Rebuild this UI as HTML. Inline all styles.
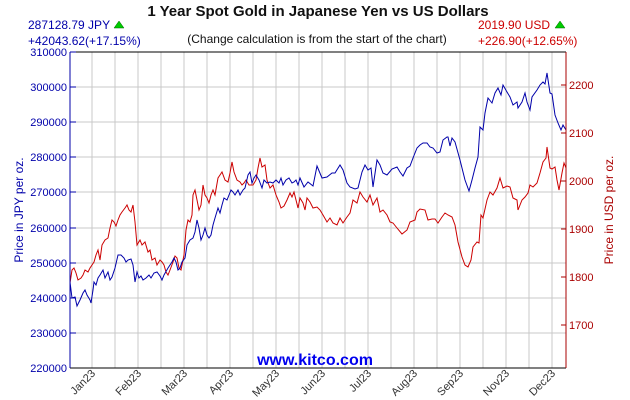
<!DOCTYPE html>
<html><head><meta charset="utf-8"><style>
body{margin:0;background:#fff;}
svg{display:block;font-family:"Liberation Sans",sans-serif;}
</style></head><body>
<svg width="630" height="400" viewBox="0 0 630 400" xmlns="http://www.w3.org/2000/svg">
<rect width="630" height="400" fill="#fff"/>
<g stroke="#c8c8c8" stroke-width="1">
<line x1="92" y1="52" x2="92" y2="368"/><line x1="115" y1="52" x2="115" y2="368"/><line x1="138" y1="52" x2="138" y2="368"/><line x1="161" y1="52" x2="161" y2="368"/><line x1="184" y1="52" x2="184" y2="368"/><line x1="207" y1="52" x2="207" y2="368"/><line x1="230" y1="52" x2="230" y2="368"/><line x1="253" y1="52" x2="253" y2="368"/><line x1="276" y1="52" x2="276" y2="368"/><line x1="299" y1="52" x2="299" y2="368"/><line x1="322" y1="52" x2="322" y2="368"/><line x1="345" y1="52" x2="345" y2="368"/><line x1="368" y1="52" x2="368" y2="368"/><line x1="391" y1="52" x2="391" y2="368"/><line x1="414" y1="52" x2="414" y2="368"/><line x1="437" y1="52" x2="437" y2="368"/><line x1="460" y1="52" x2="460" y2="368"/><line x1="483" y1="52" x2="483" y2="368"/><line x1="506" y1="52" x2="506" y2="368"/><line x1="529" y1="52" x2="529" y2="368"/><line x1="552" y1="52" x2="552" y2="368"/>
<line x1="70" y1="87" x2="566" y2="87"/><line x1="70" y1="122" x2="566" y2="122"/><line x1="70" y1="157" x2="566" y2="157"/><line x1="70" y1="192" x2="566" y2="192"/><line x1="70" y1="228" x2="566" y2="228"/><line x1="70" y1="263" x2="566" y2="263"/><line x1="70" y1="298" x2="566" y2="298"/><line x1="70" y1="333" x2="566" y2="333"/>
</g>
<text x="315" y="365" font-size="16" font-weight="bold" fill="#0000ee" text-anchor="middle">www.kitco.com</text>
<polyline fill="none" stroke="#cc0000" stroke-width="1" points="70,283 72,270 74,268 76,273 78,280 81,278 83,275 85,270 88,272 90,268 92,265 94,262 96,255 98,250 100,260 102,245 105,240 108,238 110,228 112,220 114,222 116,226 118,220 120,215 122,212 125,208 127,205 129,210 131,212 133,205 135,222 137,245 140,240 142,245 145,242 148,252 150,250 152,260 155,258 157,265 160,260 162,262 164,265 166,272 168,275 170,270 173,262 175,256 177,258 179,268 181,270 184,255 186,230 188,220 190,222 192,215 193,195 195,190 197,200 199,210 201,205 203,185 205,195 207,198 209,203 211,195 213,190 215,195 218,178 220,175 222,172 225,180 228,182 230,173 232,162 234,172 237,180 240,182 242,185 244,183 246,180 249,185 253,185 256,180 258,168 260,158 262,167 265,165 267,180 270,188 273,185 276,195 279,202 281,208 284,206 287,200 290,193 292,197 294,192 296,200 298,208 300,198 303,203 305,210 307,198 310,202 313,208 317,207 320,210 323,215 327,222 330,218 333,223 337,225 340,218 343,223 347,217 350,213 353,200 357,203 360,192 363,197 367,202 370,195 373,205 377,198 380,212 383,210 387,215 390,222 393,223 397,228 402,234 407,230 410,222 415,220 417,212 420,209 425,210 428,220 432,219 435,219 438,223 442,217 445,213 448,215 452,217 455,225 458,242 462,257 465,265 468,267 471,260 473,247 477,242 479,243 481,215 483,218 487,200 490,192 493,195 497,188 500,178 503,188 507,186 510,187 513,198 517,200 518,210 522,200 525,197 528,193 530,185 533,187 537,183 540,173 543,162 546,158 547,147 550,168 552,169 555,167 557,180 559,190 562,173 564,163 566,168"/>
<polyline fill="none" stroke="#0000aa" stroke-width="1" points="70,282 72,298 75,297 77,306 80,300 83,293 85,290 87,295 90,300 91,303 93,290 94,282 96,285 98,278 100,275 103,270 105,278 108,272 110,280 112,277 115,268 118,255 121,255 124,258 126,262 128,260 131,259 133,265 135,282 137,272 139,278 141,276 143,280 146,278 149,275 151,278 154,273 157,272 160,276 162,280 164,275 168,268 172,262 174,258 176,262 178,270 180,268 182,262 185,258 187,245 190,240 193,238 195,232 197,220 199,228 201,240 203,235 205,228 207,235 209,238 211,235 213,225 215,218 218,208 220,213 222,205 224,198 227,200 229,195 231,190 233,192 235,195 238,190 240,195 243,190 245,188 248,175 250,172 252,183 254,178 256,175 259,180 262,188 264,180 267,183 270,182 273,183 276,180 279,183 281,178 283,185 286,180 289,178 292,183 294,182 296,180 298,185 300,178 304,187 308,182 313,186 317,166 322,178 327,177 332,173 335,173 340,165 343,170 347,183 350,187 355,189 358,188 362,172 365,165 368,170 371,168 373,187 377,160 380,165 383,173 387,175 392,169 397,167 400,172 403,176 407,168 410,166 413,158 417,148 420,145 423,143 427,143 430,147 433,148 437,153 440,152 443,140 447,137 448,137 450,146 452,138 455,142 460,160 465,180 469,191 472,180 475,168 478,157 480,127 483,130 485,113 488,98 492,103 495,93 498,88 501,95 503,85 507,92 510,97 513,105 517,102 518,108 522,102 525,93 527,102 530,110 532,97 537,90 540,85 543,82 545,84 547,73 550,93 552,94 555,115 558,123 561,130 563,125 566,130"/>
<line x1="70" y1="52" x2="566" y2="52" stroke="#000"/>
<line x1="70" y1="368" x2="566" y2="368" stroke="#000"/>
<line x1="70" y1="52" x2="70" y2="368" stroke="#0000aa"/>
<line x1="566" y1="52" x2="566" y2="368" stroke="#aa0000"/>
<g stroke="#0000aa"><line x1="70" y1="52" x2="76" y2="52"/><line x1="70" y1="87" x2="76" y2="87"/><line x1="70" y1="122" x2="76" y2="122"/><line x1="70" y1="157" x2="76" y2="157"/><line x1="70" y1="192" x2="76" y2="192"/><line x1="70" y1="228" x2="76" y2="228"/><line x1="70" y1="263" x2="76" y2="263"/><line x1="70" y1="298" x2="76" y2="298"/><line x1="70" y1="333" x2="76" y2="333"/></g>
<g fill="#0000aa" font-size="11" text-anchor="end"><text x="67" y="56">310000</text><text x="67" y="91">300000</text><text x="67" y="126">290000</text><text x="67" y="161">280000</text><text x="67" y="196">270000</text><text x="67" y="232">260000</text><text x="67" y="267">250000</text><text x="67" y="302">240000</text><text x="67" y="337">230000</text><text x="67" y="372">220000</text></g>
<g stroke="#aa0000"><line x1="561" y1="85" x2="566" y2="85"/><line x1="561" y1="133" x2="566" y2="133"/><line x1="561" y1="181" x2="566" y2="181"/><line x1="561" y1="229" x2="566" y2="229"/><line x1="561" y1="277" x2="566" y2="277"/><line x1="561" y1="325" x2="566" y2="325"/></g>
<g fill="#aa0000" font-size="11"><text x="569" y="89">2200</text><text x="569" y="137">2100</text><text x="569" y="185">2000</text><text x="569" y="233">1900</text><text x="569" y="281">1800</text><text x="569" y="329">1700</text></g>
<g fill="#333" font-size="11" text-anchor="end">
<text transform="translate(96,374) rotate(-45)">Jan23</text><text transform="translate(142,374) rotate(-45)">Feb23</text><text transform="translate(188,374) rotate(-45)">Mar23</text><text transform="translate(234,374) rotate(-45)">Apr23</text><text transform="translate(280,374) rotate(-45)">May23</text><text transform="translate(326,374) rotate(-45)">Jun23</text><text transform="translate(372,374) rotate(-45)">Jul23</text><text transform="translate(418,374) rotate(-45)">Aug23</text><text transform="translate(464,374) rotate(-45)">Sep23</text><text transform="translate(510,374) rotate(-45)">Nov23</text><text transform="translate(556,374) rotate(-45)">Dec23</text>
</g>
<text transform="translate(23,210) rotate(-90)" fill="#0000aa" font-size="12" text-anchor="middle">Price in JPY per oz.</text>
<text transform="translate(613,210) rotate(-90)" fill="#aa0000" font-size="12" text-anchor="middle">Price in USD per oz.</text>
<text x="318" y="16" font-size="15" font-weight="bold" fill="#111" text-anchor="middle">1 Year Spot Gold in Japanese Yen vs US Dollars</text>
<text x="317" y="43" font-size="12" fill="#111" text-anchor="middle">(Change calculation is from the start of the chart)</text>
<text x="28" y="29" font-size="12" fill="#0000aa">287128.79 JPY</text>
<polygon points="114,28 124,28 119,21" fill="#00cc00" stroke="#006600" stroke-width="0.5"/>
<text x="28" y="45" font-size="12" fill="#0000aa">+42043.62(+17.15%)</text>
<text x="478" y="29" font-size="12" fill="#cc0000">2019.90 USD</text>
<polygon points="555,28 565,28 560,21" fill="#00cc00" stroke="#006600" stroke-width="0.5"/>
<text x="478" y="45" font-size="12" fill="#cc0000">+226.90(+12.65%)</text>
</svg>
</body></html>
